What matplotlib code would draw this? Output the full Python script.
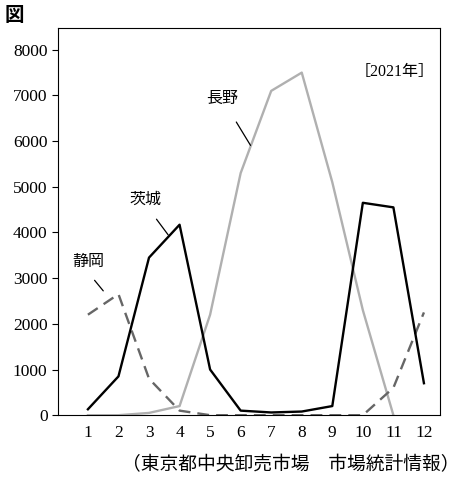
import numpy as np
import matplotlib.pyplot as plt

plt.rcParams['font.family'] = ['Liberation Serif', 'Noto Sans CJK JP']

months = list(range(1, 13))
ibaraki = [130, 850, 3450, 4170, 1000, 100, 60, 80, 200, 4650, 4550, 700]
shizuoka = [2200, 2650, 800, 100, 0, 0, 0, 0, 0, 0, 600, 2250]
nagano_months = list(range(1, 12))
nagano = [0, 0, 50, 200, 2200, 5300, 7100, 7500, 5100, 2300, 0]

fig = plt.figure(figsize=(4.62, 4.8), dpi=100)
ax = fig.add_axes([0.1255, 0.135, 0.8265, 0.807])

ax.plot(nagano_months, nagano, color='#b0b0b0', lw=1.7)
ax.plot(months, shizuoka, color='#666666', lw=1.7, ls=(0, (5, 3)))
ax.plot(months, ibaraki, color='black', lw=1.7)

ax.set_xlim(0.02, 12.52)
ax.set_ylim(0, 8480)
ax.set_xticks(months)
ax.set_yticks(range(0, 8001, 1000))
ax.tick_params(labelsize=12.5, length=4)
ax.tick_params(axis='x', length=0, pad=7)

lw = dict(arrowstyle='-', color='black', lw=0.9)
ax.text(5.39, 6930, '長野', fontsize=11.5, ha='center', va='center')
ax.annotate('', xy=(6.37, 5855), xytext=(5.81, 6470), arrowprops=lw)
ax.text(2.87, 4715, '茨城', fontsize=11.5, ha='center', va='center')
ax.annotate('', xy=(3.68, 3900), xytext=(3.19, 4340), arrowprops=lw)
ax.text(1.0, 3355, '静岡', fontsize=11.5, ha='center', va='center')
ax.annotate('', xy=(1.56, 2675), xytext=(1.16, 3000), arrowprops=lw)
ax.text(11.05, 7520, '［2021年］', fontsize=11.5, ha='center', va='center')

fig.text(0.01, 0.985, '図', fontsize=14, fontweight='bold', ha='left', va='top')
fig.text(0.995, 0.03, '（東京都中央卸売市場　市場統計情報）', fontsize=13.5, ha='right', va='center')

fig.savefig('out.png', dpi=100)
